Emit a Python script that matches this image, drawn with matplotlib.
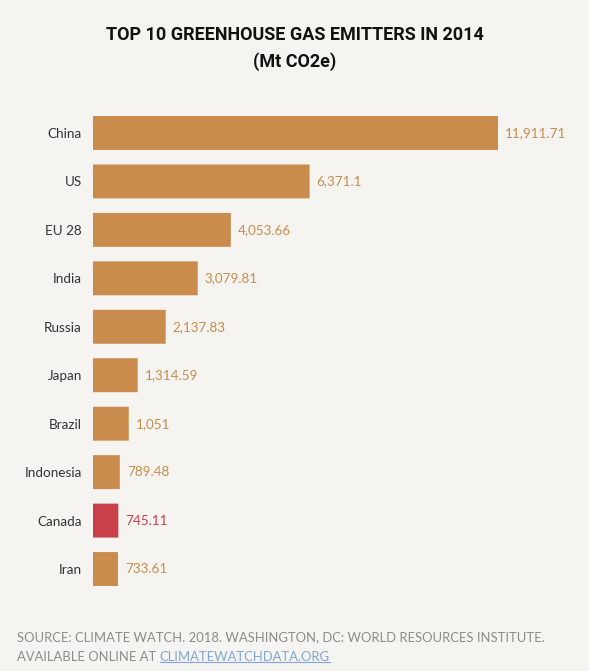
import matplotlib

matplotlib.use("Agg")
import matplotlib.pyplot as plt
from matplotlib.patches import FancyBboxPatch

# ── Datos ──────────────────────────────────────────────────────────────
countries = ["China", "US", "EU 28", "India", "Russia", "Japan", "Brazil",
             "Indonesia", "Canada", "Iran"]
emissions = [11911.71, 6371.1, 4053.66, 3079.81, 2137.83, 1314.59, 1051,
             789.48, 745.11, 733.61]
value_labels = ["11,911.71", "6,371.1", "4,053.66", "3,079.81", "2,137.83",
                "1,314.59", "1,051", "789.48", "745.11", "733.61"]
highlight = "Canada"

BG = "#f6f4f1"
C_BAR = "#c98c4c"
C_HI = "#c9404a"
C_TXT = "#333333"
C_SRC = "#8c8c8c"
C_LINK = "#7ea6d8"

W, H = 589, 671
fig = plt.figure(figsize=(W / 100, H / 100), dpi=100, facecolor=BG)
ax = fig.add_axes([93 / W, 1 - 586 / H, (498 - 93) / W, (586 - 116) / H])
ax.set_facecolor(BG)

bar_h = 0.70
pad = bar_h / 2
ax.set_xlim(0, max(emissions))
ax.set_ylim(len(countries) - 1 + pad, -pad)

colors = [C_HI if c == highlight else C_BAR for c in countries]
bars = ax.barh(range(len(countries)), emissions, height=bar_h, color=colors)

# esquinas ligeramente redondeadas
for b, col in zip(bars, colors):
    b.set_visible(False)
    ax.add_patch(FancyBboxPatch(
        (b.get_x(), b.get_y()), b.get_width(), b.get_height(),
        boxstyle="round,pad=0,rounding_size=0.06",
        facecolor=col, edgecolor="none",
    ))

for i, (v, lab, col) in enumerate(zip(emissions, value_labels, colors)):
    ax.annotate(lab, (v, i), xytext=(5, 0), textcoords="offset points",
                ha="left", va="center", fontsize=9.7, color=col,
                family="Lato")

ax.set_yticks(range(len(countries)))
ax.set_yticklabels(countries, fontsize=9.7, color=C_TXT, family="Lato")
ax.tick_params(axis="y", length=0, pad=8)
ax.set_xticks([])
for s in ax.spines.values():
    s.set_visible(False)

# ── Titulo ─────────────────────────────────────────────────────────────
title_font = ["Roboto", "DejaVu Sans"]
fig.text(0.5, 1 - 35 / H, "TOP 10 GREENHOUSE GAS EMITTERS IN 2014",
         ha="center", va="center", fontsize=13, fontweight="bold",
         color="#111111", family=title_font)
fig.text(0.5, 1 - 62 / H, "(Mt CO2e)",
         ha="center", va="center", fontsize=13, fontweight="bold",
         color="#111111", family=title_font)

# ── Fuente ─────────────────────────────────────────────────────────────
fig.text(17 / W, 1 - 637 / H,
         "SOURCE: CLIMATE WATCH. 2018. WASHINGTON, DC: WORLD RESOURCES INSTITUTE.",
         ha="left", va="center", fontsize=9.4, color=C_SRC, family="Lato")
t1 = fig.text(17 / W, 1 - 657 / H, "AVAILABLE ONLINE AT ",
              ha="left", va="center", fontsize=9.4, color=C_SRC, family="Lato")
fig.canvas.draw()
bb = t1.get_window_extent()
t2 = fig.text(bb.x1 / W, 1 - 657 / H, "CLIMATEWATCHDATA.ORG",
              ha="left", va="center", fontsize=9.4, color=C_LINK, family="Lato")
t2.set_url("https://climatewatchdata.org")
fig.canvas.draw()
bb2 = t2.get_window_extent()
fig.add_artist(plt.Line2D([bb2.x0 / W, bb2.x1 / W],
                          [(bb2.y0 + 1) / H, (bb2.y0 + 1) / H],
                          color=C_LINK, linewidth=0.8))

fig.savefig("out.png", dpi=100, facecolor=BG)
